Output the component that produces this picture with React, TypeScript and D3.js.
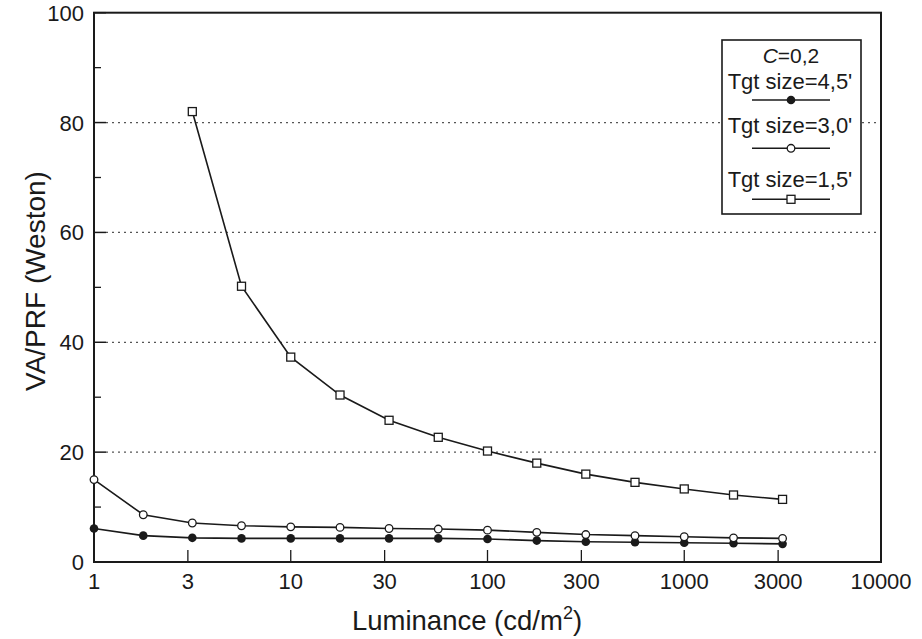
import React, { useEffect, useRef } from 'react';
import * as d3 from 'd3';

// luminance steps, quarter-decade apart
const luminance = [1, 1.78, 3.16, 5.62, 10, 17.8, 31.6, 56.2, 100, 178, 316, 562, 1000, 1780, 3160];
// VA/PRF values per target size
const size45 = [6.1, 4.8, 4.4, 4.3, 4.3, 4.3, 4.3, 4.3, 4.2, 3.9, 3.7, 3.6, 3.5, 3.4, 3.3];
const size30 = [15.0, 8.6, 7.1, 6.6, 6.4, 6.3, 6.1, 6.0, 5.8, 5.4, 5.0, 4.8, 4.6, 4.4, 4.3];
const size15 = [null, null, 82, 50.2, 37.3, 30.4, 25.8, 22.7, 20.2, 18.0, 16.0, 14.5, 13.3, 12.2, 11.4];

const xTicks = [1, 3, 10, 30, 100, 300, 1000, 3000, 10000];
const yTicks = [0, 20, 40, 60, 80, 100];
const yMinor = [10, 30, 50, 70, 90];
const legendLabels = ["Tgt size=4,5'", "Tgt size=3,0'", "Tgt size=1,5'"];

const W = 922, H = 639;
const left = 94, right = 881, top = 12.7, bottom = 562;
const ink = '#1a1a1a';
const font = 'Liberation Sans, Arial, sans-serif';

const App = () => {
  const chart = useRef<SVGSVGElement>(null);

  useEffect(() => {
    const svg = d3.select(chart.current);
    svg.selectAll('*').remove();

    const x = d3.scaleLog().domain([1, 10000]).range([left, right]);
    const y = d3.scaleLinear().domain([0, 100]).range([bottom, top]);

    const g = svg.append('g');

    // dotted gridlines
    g.selectAll('line.grid')
      .data(yTicks.filter(t => t > 0 && t < 100))
      .join('line')
      .attr('x1', left + 12).attr('x2', right)
      .attr('y1', d => y(d)).attr('y2', d => y(d))
      .attr('stroke', '#555').attr('stroke-width', 1.3)
      .attr('stroke-dasharray', '2,4');

    // y ticks
    g.selectAll('line.ymaj')
      .data(yTicks)
      .join('line')
      .attr('x1', left).attr('x2', left + 12)
      .attr('y1', d => y(d)).attr('y2', d => y(d))
      .attr('stroke', ink).attr('stroke-width', 1.5);
    g.append('g').selectAll('line')
      .data(yMinor)
      .join('line')
      .attr('x1', left).attr('x2', left + 7)
      .attr('y1', d => y(d)).attr('y2', d => y(d))
      .attr('stroke', ink).attr('stroke-width', 1.3);

    // x ticks, pointing inward
    g.append('g').selectAll('line')
      .data(xTicks.slice(1, -1))
      .join('line')
      .attr('x1', d => x(d)).attr('x2', d => x(d))
      .attr('y1', bottom).attr('y2', bottom - 12)
      .attr('stroke', ink).attr('stroke-width', 1.3);

    // frame
    g.append('rect')
      .attr('x', left).attr('y', top)
      .attr('width', right - left).attr('height', bottom - top)
      .attr('fill', 'none').attr('stroke', ink).attr('stroke-width', 2);

    // tick labels
    g.append('g').selectAll('text')
      .data(yTicks)
      .join('text')
      .attr('x', 84).attr('y', d => y(d) + 8)
      .attr('text-anchor', 'end')
      .attr('font-family', font).attr('font-size', 22).attr('fill', ink)
      .text(d => d);
    g.append('g').selectAll('text')
      .data(xTicks)
      .join('text')
      .attr('x', d => x(d)).attr('y', 589)
      .attr('text-anchor', 'middle')
      .attr('font-family', font).attr('font-size', 22).attr('fill', ink)
      .text(d => d);

    // axis titles
    const xt = g.append('text')
      .attr('x', 467).attr('y', 630)
      .attr('text-anchor', 'middle')
      .attr('font-family', font).attr('font-size', 27.5).attr('fill', ink);
    xt.append('tspan').text('Luminance (cd/m');
    xt.append('tspan').attr('dy', -11).attr('font-size', 18).text('2');
    xt.append('tspan').attr('dy', 11).text(')');

    g.append('text')
      .attr('transform', 'translate(45,281) rotate(-90)')
      .attr('text-anchor', 'middle')
      .attr('font-family', font).attr('font-size', 28).attr('fill', ink)
      .text('VA/PRF (Weston)');

    // series
    const series = [size45, size30, size15];
    const line = d3.line<any>()
      .defined(d => d[1] != null)
      .x(d => x(d[0])).y(d => y(d[1]));

    const drawMarker = (sel: any, k: number, cx: (d: any) => number, cy: (d: any) => number) => {
      if (k === 0) {
        sel.append('circle').attr('cx', cx).attr('cy', cy).attr('r', 4.3).attr('fill', ink);
      } else if (k === 1) {
        sel.append('circle').attr('cx', cx).attr('cy', cy).attr('r', 3.8)
          .attr('fill', 'white').attr('stroke', ink).attr('stroke-width', 1.3);
      } else {
        sel.append('rect').attr('x', (d: any) => cx(d) - 4).attr('y', (d: any) => cy(d) - 4)
          .attr('width', 8).attr('height', 8)
          .attr('fill', 'white').attr('stroke', ink).attr('stroke-width', 1.3);
      }
    };

    series.forEach((vals, k) => {
      const pts = luminance.map((l, i) => [l, vals[i]]);
      g.append('path')
        .attr('d', line(pts))
        .attr('fill', 'none').attr('stroke', ink).attr('stroke-width', 1.6);
      const m = g.append('g').selectAll('g')
        .data(pts.filter(p => p[1] != null))
        .join('g');
      drawMarker(m, k, (d: any) => x(d[0]), (d: any) => y(d[1]));
    });

    // legend
    const lg = g.append('g');
    lg.append('rect')
      .attr('x', 722).attr('y', 40).attr('width', 139).attr('height', 174)
      .attr('fill', 'white').attr('stroke', ink).attr('stroke-width', 1.6);
    const ct = lg.append('text')
      .attr('x', 791).attr('y', 63.3).attr('text-anchor', 'middle')
      .attr('font-family', font).attr('font-size', 21).attr('fill', ink);
    ct.append('tspan').attr('font-style', 'italic').text('C');
    ct.append('tspan').text('=0,2');

    const textY = [89.3, 133.3, 186.7];
    const lineY = [100, 148.3, 199.3];
    legendLabels.forEach((lab, k) => {
      lg.append('text')
        .attr('x', 790).attr('y', textY[k]).attr('text-anchor', 'middle')
        .attr('font-family', font).attr('font-size', 22).attr('fill', ink)
        .text(lab);
      lg.append('line')
        .attr('x1', 752).attr('x2', 830)
        .attr('y1', lineY[k]).attr('y2', lineY[k])
        .attr('stroke', ink).attr('stroke-width', 1.4);
      const m = lg.append('g').selectAll('g').data([0]).join('g');
      drawMarker(m, k, () => 791, () => lineY[k]);
    });
  }, []);

  return (
    <div>
      <svg ref={chart} width={W} height={H}
        style={{ position: 'absolute', left: 0, top: 0, background: 'white' }} />
    </div>
  );
};

export default App;
